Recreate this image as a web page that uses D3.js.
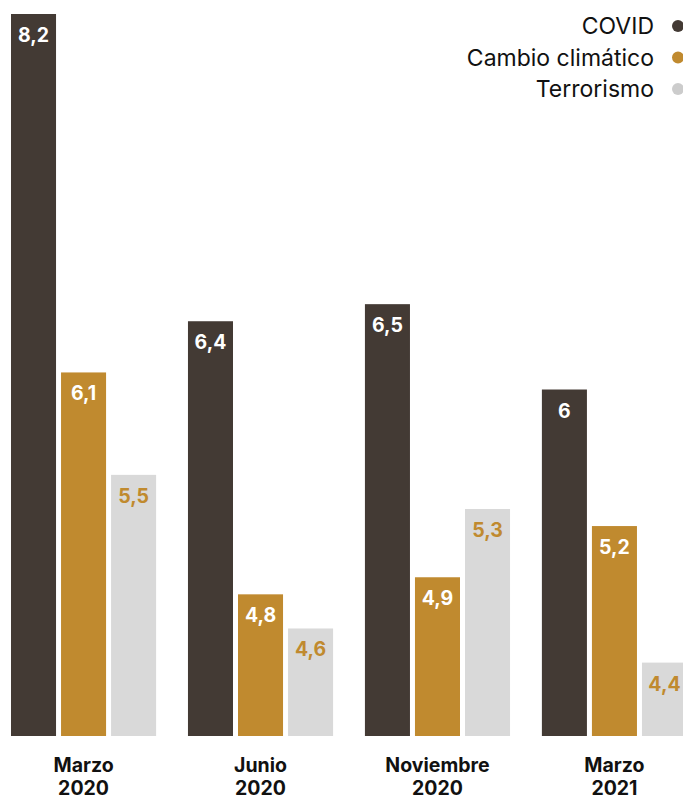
<!DOCTYPE html>
<html>
<head>
<meta charset="utf-8">
<style>
  body { margin: 0; background: #fff; }
  svg { display: block; font-family: Inter, "Noto Sans", sans-serif; }
</style>
</head>
<body>
<div id="chart"></div>
<script src="https://d3js.org/d3.v7.min.js"></script>
<script>
// chart size
const width = 683;
const height = 799;

// data
const periods = ["Marzo 2020", "Junio 2020", "Noviembre 2020", "Marzo 2021"];
const series = ["COVID", "Cambio climático", "Terrorismo"];
const covid = [8.2, 6.4, 6.5, 6];
const cambio = [6.1, 4.8, 4.9, 5.2];
const terrorismo = [5.5, 4.6, 5.3, 4.4];

const colors = ["#433a34", "#c08a2f", "#d9d9d9"];
const labelColors = ["#ffffff", "#ffffff", "#c08a2f"];

const rows = [];
periods.forEach(function(p, i) {
  [covid, cambio, terrorismo].forEach(function(arr, j) {
    rows.push({ period: p, key: series[j], value: arr[i], s: j });
  });
});

const svg = d3.select("#chart")
  .append("svg")
  .attr("width", width)
  .attr("height", height);

// x: one band per period, subbands for the series
const x0 = d3.scaleBand()
  .domain(periods)
  .range([11, 687])
  .paddingInner(0.18);

const x1 = d3.scaleBand()
  .domain(series)
  .range([0, x0.bandwidth()])
  .paddingInner(0.1);

// y axis does not start at zero in the original
const y = d3.scaleLinear()
  .domain([3.97, 8.2])
  .range([736, 14]);

const bars = svg.selectAll(".bar")
  .data(rows)
  .enter().append("g")
  .attr("class", "bar")
  .attr("transform", function(d) { return "translate(" + (x0(d.period) + x1(d.key)) + ",0)"; });

bars.append("rect")
  .attr("x", 0)
  .attr("y", function(d) { return y(d.value); })
  .attr("width", x1.bandwidth())
  .attr("height", function(d) { return y.range()[0] - y(d.value); })
  .style("fill", function(d) { return colors[d.s]; });

bars.append("text")
  .attr("x", x1.bandwidth() / 2)
  .attr("y", function(d) { return y(d.value) + 28; })
  .attr("text-anchor", "middle")
  .style("font-size", "19.5px")
  .style("font-weight", "700")
  .style("fill", function(d) { return labelColors[d.s]; })
  .text(function(d) { return String(d.value).replace(".", ","); });

// period labels under the bars, two lines each
const xlab = svg.selectAll(".xlab")
  .data(periods)
  .enter().append("text")
  .attr("class", "xlab")
  .attr("text-anchor", "middle")
  .style("font-size", "19.5px")
  .style("font-weight", "700")
  .style("fill", "#111");

xlab.selectAll("tspan")
  .data(function(d) { return d.split(" ").map(function(t) { return { t: t, p: d }; }); })
  .enter().append("tspan")
  .attr("x", function(d) { return x0(d.p) + x0.bandwidth() / 2; })
  .attr("y", function(d, i) { return 772 + i * 23; })
  .text(function(d) { return d.t; });

// legend, top right
const legend = svg.selectAll(".legend")
  .data(series)
  .enter().append("g")
  .attr("class", "legend")
  .attr("transform", function(d, i) { return "translate(0," + (26 + i * 31.5) + ")"; });

legend.append("text")
  .attr("x", 654)
  .attr("y", 0)
  .attr("dy", "0.35em")
  .attr("text-anchor", "end")
  .style("font-size", "23px")
  .style("fill", "#111")
  .text(function(d) { return d; });

legend.append("circle")
  .attr("cx", 678)
  .attr("cy", 0)
  .attr("r", 6)
  .style("fill", function(d, i) { return i == 2 ? "#cccccc" : colors[i]; });
</script>
</body>
</html>
